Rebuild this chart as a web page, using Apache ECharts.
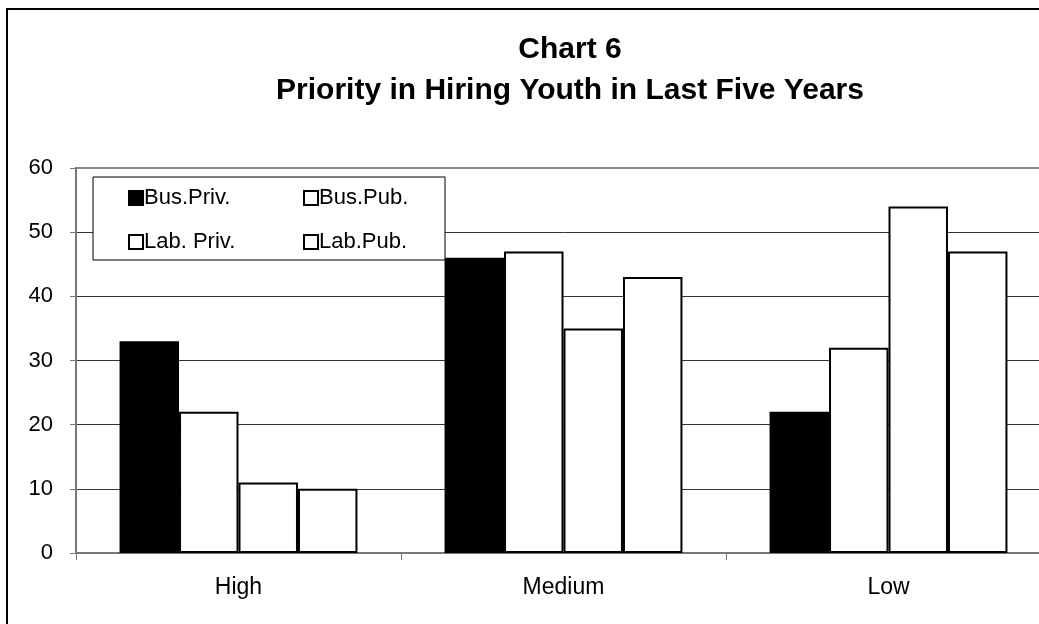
<!DOCTYPE html>
<html>
<head>
<meta charset="utf-8">
<script src="https://cdn.jsdelivr.net/npm/echarts@6/dist/echarts.min.js"></script>
<style>
  html, body { margin: 0; padding: 0; background: #fff; overflow: hidden; }
  /* the chart frame runs past the right and bottom edges of the window */
  #chart { width: 1100px; height: 680px; }
</style>
</head>
<body>
<div id="chart"></div>
<script>
// Priority categories on the x axis
const categories = ['High', 'Medium', 'Low'];
// Percent of respondents per group
const busPriv = [33, 46, 22];
const busPub = [22, 47, 32];
const labPriv = [11, 35, 54];
const labPub = [10, 43, 47];
const seriesNames = ['Bus.Priv.', 'Bus.Pub.', 'Lab. Priv.', 'Lab.Pub.'];
const yTicks = { min: 0, max: 60, interval: 10 };

const font = 'Liberation Sans, Arial, sans-serif';
const chart = echarts.init(document.getElementById('chart'), null, { renderer: 'canvas' });

function barSeries(name, data, fill) {
  return {
    name: name,
    type: 'bar',
    data: data,
    barGap: '0%',
    barCategoryGap: '26.8%',
    itemStyle: { color: fill, borderColor: '#000', borderWidth: 2 },
    emphasis: { disabled: true },
    animation: false
  };
}

function legendAt(name, left, top) {
  return {
    data: [name],
    left: left,
    top: top,
    padding: 0,
    itemWidth: 14,
    itemHeight: 14,
    icon: 'rect',
    selectedMode: false,
    z: 60,
    textStyle: { fontFamily: font, fontSize: 22, color: '#000', padding: [0, 0, 0, -4] }
  };
}

chart.setOption({
  backgroundColor: '#fff',
  animation: false,
  title: {
    text: 'Chart 6\nPriority in Hiring Youth in Last Five Years',
    left: 565,
    top: 24,
    textAlign: 'center',
    textStyle: { fontFamily: font, fontSize: 30, fontWeight: 'bold', color: '#000', lineHeight: 41 }
  },
  graphic: [
    {
      type: 'rect',
      shape: { x: 7, y: 9, width: 1200, height: 800 },
      style: { fill: 'none', stroke: '#000', lineWidth: 2 },
      silent: true,
      z: 0
    },
    {
      type: 'rect',
      shape: { x: 93, y: 177, width: 352, height: 83 },
      style: { fill: '#fff', stroke: '#000', lineWidth: 1 },
      silent: true,
      z: 50
    }
  ],
  legend: [
    legendAt(seriesNames[0], 128, 187),
    legendAt(seriesNames[1], 303, 187),
    legendAt(seriesNames[2], 128, 231),
    legendAt(seriesNames[3], 303, 231)
  ],
  grid: {
    left: 76,
    top: 168,
    width: 975,
    height: 385,
    show: true,
    borderColor: '#888',
    borderWidth: 2,
    backgroundColor: 'transparent'
  },
  xAxis: {
    type: 'category',
    data: categories,
    axisLine: { lineStyle: { color: '#777', width: 2 } },
    axisTick: { show: true, length: 7, lineStyle: { color: '#777', width: 1 } },
    axisLabel: { fontFamily: font, fontSize: 23, color: '#000', margin: 23 },
    splitLine: { show: false }
  },
  yAxis: {
    type: 'value',
    min: yTicks.min,
    max: yTicks.max,
    interval: yTicks.interval,
    axisLine: { show: true, lineStyle: { color: '#777', width: 2 } },
    axisTick: { show: true, length: 6, lineStyle: { color: '#777', width: 1 } },
    axisLabel: { fontFamily: font, fontSize: 22, color: '#000', margin: 23 },
    splitLine: { show: true, lineStyle: { color: ['#777', '#333', '#333', '#333', '#333', '#333', '#888'], width: 1 } }
  },
  series: [
    barSeries(seriesNames[0], busPriv, '#000'),
    barSeries(seriesNames[1], busPub, '#fff'),
    barSeries(seriesNames[2], labPriv, '#fff'),
    barSeries(seriesNames[3], labPub, '#fff')
  ]
});
</script>
</body>
</html>
